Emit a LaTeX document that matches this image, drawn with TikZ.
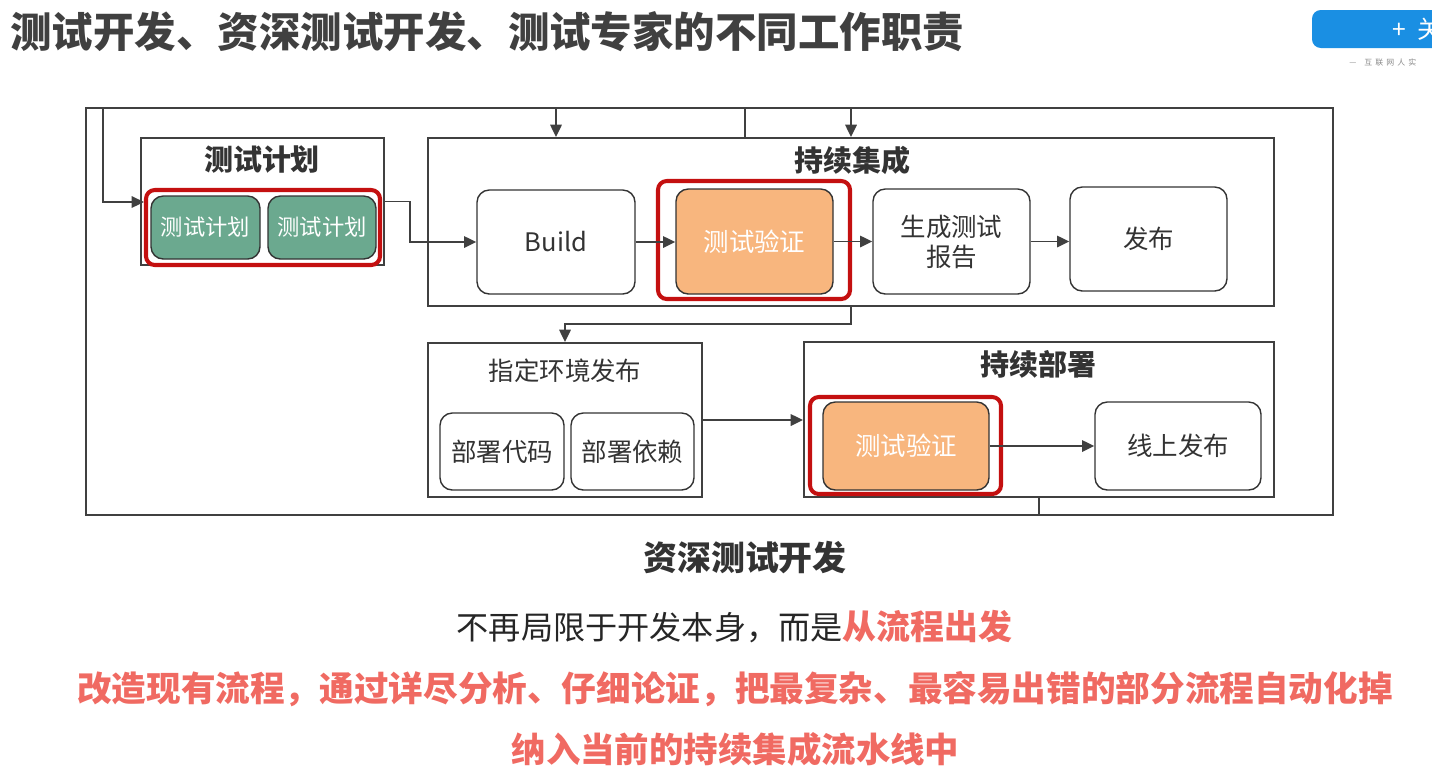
\documentclass[tikz,border=0pt]{standalone}
\usepackage{fontspec}
\setmainfont{Noto Sans CJK SC}
\usepackage{xcolor}
\usepackage{tikz}
\usetikzlibrary{arrows.meta, positioning, fit, backgrounds}

\definecolor{lineg}{HTML}{404040}
\definecolor{boxg}{HTML}{333333}
\definecolor{planfill}{HTML}{6BA98F}
\definecolor{verifyfill}{HTML}{F8B67E}
\definecolor{hired}{HTML}{C41010}
\definecolor{salmon}{HTML}{F06A62}
\definecolor{btnblue}{HTML}{1A8FE3}

\begin{document}
\begin{tikzpicture}[
  grp/.style={draw=lineg, line width=1.1pt, minimum width=#1, inner sep=0pt},
  grp/.default=4cm,
  box/.style={draw=boxg, line width=0.8pt, rounded corners=7pt, fill=white, text=boxg, font=\fontsize{14.5}{17}\selectfont, align=center, inner sep=0pt},
  planbox/.style={box, fill=planfill, text=white, font=\fontsize{12.7}{15}\selectfont},
  verbox/.style={box, fill=verifyfill, text=white},
  hilite/.style={draw=hired, line width=2.3pt, rounded corners=5pt, inner sep=0pt},
  grptitle/.style={font=\bfseries\fontsize{16.5}{19}\selectfont, text=boxg},
  arr/.style={-{Triangle[length=7pt,width=6.5pt]}, line width=1.1pt, lineg},
  bus/.style={line width=1.1pt, lineg},
  note/.style={font=\fontsize{18.3}{22}\selectfont, text=black!85}
]
  \useasboundingbox (0,0) rectangle (28.64,-15.66);

  % Heading and screen button
  \node[anchor=west, font=\bfseries\fontsize{23.6}{27}\selectfont, text=lineg, inner sep=0pt] (title) at (0.2,-0.64) {测试开发、资深测试开发、测试专家的不同工作职责};
  \node[fill=btnblue, rounded corners=5pt, minimum width=3.36cm, minimum height=0.76cm] (btn) at (27.92,-0.58) {};
  \node[anchor=west, text=white, font=\fontsize{14}{16}\selectfont, inner sep=0pt] (btntxt) at (27.84,-0.58) {+ \ 关};
  \node[anchor=west, text=black!45, font=\fontsize{4.5}{5}\selectfont, inner sep=0pt] (btnsub) at (26.98,-1.25) {—\quad 互\ \,联\ \,网\ \,人\ \,实};

  % Outer loop frame
  \node[draw=lineg, line width=1.1pt, minimum width=24.94cm, minimum height=8.14cm, inner sep=0pt] (frame) at (14.19,-6.23) {};

  % Test plan group
  \node[grp, minimum width=4.86cm, minimum height=2.54cm] (plan) at (5.25,-4.03) {};
  \node[grptitle] (plantitle) at (5.24,-3.2) {测试计划};
  \node[hilite, minimum width=4.68cm, minimum height=1.5cm] (red1) at (5.26,-4.55) {};
  \node[planbox, minimum width=2.18cm, minimum height=1.26cm] (p1) at (4.11,-4.55) {测试计划};
  \node[planbox, minimum width=2.16cm, minimum height=1.26cm] (p2) at (6.44,-4.55) {测试计划};

  % Continuous integration group
  \node[grp, minimum width=16.92cm, minimum height=3.36cm] (ci) at (17.02,-4.44) {};
  \node[grptitle] (cititle) at (17.04,-3.2) {持续集成};
  \node[box, minimum width=3.16cm, minimum height=2.08cm] (build) at (11.12,-4.84) {Build};
  \node[hilite, minimum width=3.84cm, minimum height=2.36cm] (red2) at (15.08,-4.8) {};
  \node[verbox, minimum width=3.14cm, minimum height=2.1cm] (verify1) at (15.09,-4.83) {测试验证};
  \node[box, minimum width=3.14cm, minimum height=2.1cm] (report) at (19.03,-4.83) {生成测试\\报告};
  \node[box, minimum width=3.14cm, minimum height=2.08cm] (release) at (22.97,-4.78) {发布};

  % Target environment group
  \node[grp, minimum width=5.48cm, minimum height=3.08cm] (env) at (11.3,-8.4) {};
  \node[font=\fontsize{14.5}{17}\selectfont, text=boxg] (envtitle) at (11.3,-7.42) {指定环境发布};
  \node[box, minimum width=2.48cm, minimum height=1.54cm] (code) at (10.04,-9.03) {部署代码};
  \node[box, minimum width=2.46cm, minimum height=1.54cm] (deps) at (12.65,-9.03) {部署依赖};

  % Continuous deployment group
  \node[grp, minimum width=9.4cm, minimum height=3.1cm] (cd) at (20.78,-8.39) {};
  \node[grptitle] (cdtitle) at (20.76,-7.28) {持续部署};
  \node[hilite, minimum width=3.82cm, minimum height=1.94cm] (red3) at (18.11,-8.91) {};
  \node[verbox, minimum width=3.32cm, minimum height=1.76cm] (verify2) at (18.12,-8.92) {测试验证};
  \node[box, minimum width=3.32cm, minimum height=1.76cm] (online) at (23.56,-8.92) {线上发布};

  % Loop connectors along the frame
  \coordinate (lin) at (2.06,-2.16);
  \coordinate (tap) at (14.9,-2.16);
  \draw[arr] (lin) |- ([yshift=0.51cm]red1.west);
  \draw[arr] (build |- frame.north) -- (build |- ci.north);
  \draw[bus] (tap) -- (tap |- ci.north);
  \draw[arr] (ci.north |- frame.north) -- (ci.north);
  \draw[bus] (cd.south) -- (cd.south |- frame.south);

  % Flow inside
  \draw[arr] (plan.east) -- ++(0.5,0) |- (build.west);
  \draw[arr] (build.east) -- (build.east -| verify1.west);
  \draw[arr] (verify1.east) -- (report.west);
  \draw[arr] (report.east) -- (report.east -| release.west);
  \draw[arr] (ci.south) -- ++(0,-0.34) -| (env.north);
  \draw[arr] (env.east) -- (env.east -| cd.west);
  \draw[arr] (verify2.east) -- (online.west);

  % Caption lines
  \node[font=\bfseries\fontsize{19.3}{23}\selectfont, text=boxg] (role) at (14.9,-11.16) {资深测试开发};
  \node[note] (line1) at (14.69,-12.54) {不再局限于开发本身，而是\textcolor{salmon}{\bfseries\fontsize{19.3}{22}\selectfont 从流程出发}};
  \node[note, font=\bfseries\fontsize{19.7}{22}\selectfont, text=salmon] (line2) at (14.7,-13.78) {改造现有流程，通过详尽分析、仔细论证，把最复杂、最容易出错的部分流程自动化掉};
  \node[note, font=\bfseries\fontsize{19.6}{22}\selectfont, text=salmon] (line3) at (14.71,-14.98) {纳入当前的持续集成流水线中};
\end{tikzpicture}
\end{document}
